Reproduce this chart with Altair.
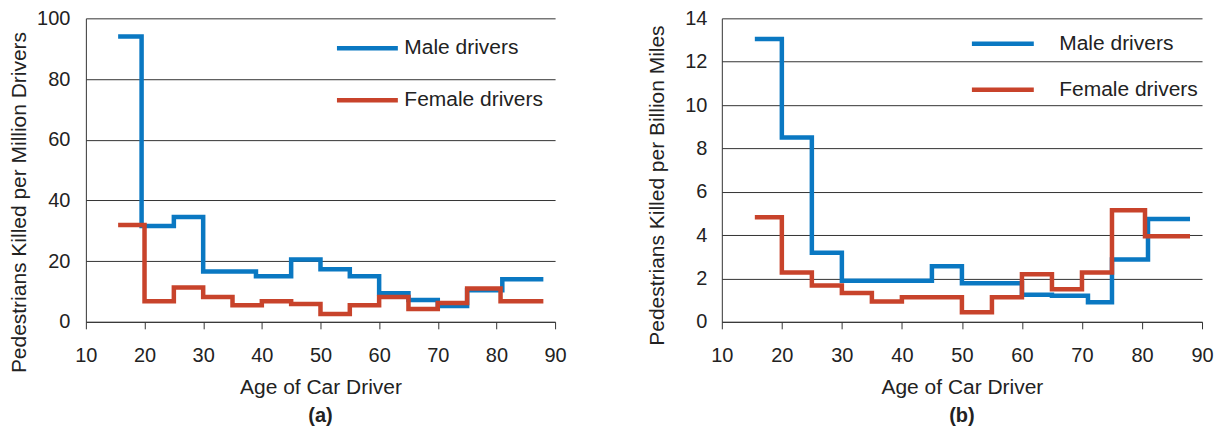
import altair as alt
import pandas as pd

series_names = ["Male drivers", "Female drivers"]
series_colors = ["#0a78c2", "#c8432b"]

# Panel (a): pedestrians killed per million drivers (step edges, last value repeated at end)
male_a_age = [15.5, 19.5, 25, 30, 39, 45, 50, 55, 60, 65, 70, 75, 81, 88]
male_a_val = [94, 31.6, 34.5, 16.6, 15, 20.5, 17.3, 15, 9.4, 7.2, 5.2, 10.4, 14, 14]
female_a_age = [15.5, 20, 25, 30, 35, 40, 45, 50, 55, 60, 65, 70, 75, 80.7, 88]
female_a_val = [31.9, 6.8, 11.3, 8.2, 5.5, 6.8, 5.9, 2.6, 5.5, 8.2, 4.2, 6.2, 11, 6.8, 6.8]

# Panel (b): pedestrians killed per billion miles
male_b_age = [15.5, 20, 25, 30, 45, 50, 60, 65, 71, 75, 81, 88]
male_b_val = [13.05, 8.5, 3.19, 1.9, 2.56, 1.78, 1.25, 1.2, 0.9, 2.88, 4.74, 4.74]
female_b_age = [15.5, 20, 25, 30, 35, 40, 50, 55, 60, 65, 70, 75, 80.5, 88]
female_b_val = [4.82, 2.27, 1.68, 1.33, 0.94, 1.13, 0.44, 1.13, 2.19, 1.5, 2.28, 5.15, 3.95, 3.95]

x_ticks = [10, 20, 30, 40, 50, 60, 70, 80, 90]
y_ticks_a = [0, 20, 40, 60, 80, 100]
y_ticks_b = [0, 2, 4, 6, 8, 10, 12, 14]

FONT = "Liberation Sans"
TXT = "#222222"


def frame(ages, vals, name):
    return pd.DataFrame({"age": ages, "value": vals, "series": name})


def panel(male_age, male_val, female_age, female_val, yticks, ytitle, caption,
          width, legend_x, legend_y, label_offset, row_pad, label_pad, title_pad,
          title_y, sym_size):
    color = alt.Color(
        "series:N",
        scale=alt.Scale(domain=series_names, range=series_colors),
        legend=alt.Legend(
            title=None, orient="none", legendX=legend_x, legendY=legend_y,
            direction="vertical", symbolType="stroke", symbolSize=sym_size,
            symbolStrokeWidth=4.5, labelFontSize=21, labelFont=FONT,
            labelColor=TXT, labelOffset=label_offset, rowPadding=row_pad,
        ),
    )
    x = alt.X("age:Q", scale=alt.Scale(domain=[10, 90], nice=False),
              axis=alt.Axis(values=x_ticks, title="Age of Car Driver", grid=False,
                            tickSize=7, tickColor="#333", domainColor="#333",
                            labelPadding=17, titlePadding=11, labelFlush=False))
    y = alt.Y("value:Q", scale=alt.Scale(domain=[yticks[0], yticks[-1]], nice=False),
              axis=alt.Axis(values=yticks, title=ytitle, grid=True, gridColor="#333",
                            gridWidth=1, ticks=False, labelPadding=label_pad,
                            domainColor="#333", titlePadding=title_pad,
                            titleY=title_y, titleAlign="center"))
    male = alt.Chart(frame(male_age, male_val, series_names[0])).mark_line(
        interpolate="step-after", strokeWidth=4.5, strokeCap="butt", strokeJoin="miter"
    ).encode(x=x, y=y, color=color)
    female = alt.Chart(frame(female_age, female_val, series_names[1])).mark_line(
        interpolate="step-after", strokeWidth=4.5, strokeCap="butt", strokeJoin="miter"
    ).encode(x=x, y=y, color=color)
    return alt.layer(male, female).properties(
        width=width, height=304,
        title=alt.TitleParams(caption, orient="bottom", fontWeight="bold",
                              fontSize=20, font=FONT, color=TXT, offset=8),
    )


left = panel(male_a_age, male_a_val, female_a_age, female_a_val, y_ticks_a,
             "Pedestrians Killed per Million Drivers", "(a)", 470,
             249, -3, 4, 9, 16, 7, 184, 3721)
right = panel(male_b_age, male_b_val, female_b_age, female_b_val, y_ticks_b,
              "Pedestrians Killed per Billion Miles", "(b)", 481,
              248, -8, 23, 2, 15, 17, 167, 3844)

chart = alt.hconcat(left, right, spacing=79).resolve_scale(
    color="independent").resolve_legend(color="independent").configure_view(
    stroke=None).configure_axis(
    labelFont=FONT, titleFont=FONT, labelFontSize=20, titleFontSize=21,
    labelColor=TXT, titleColor=TXT, titleFontWeight="normal").properties(
    padding={"top": 0, "left": 0, "bottom": 0, "right": 0})

chart.save("out.html", embed_options={"renderer": "svg", "actions": False})
